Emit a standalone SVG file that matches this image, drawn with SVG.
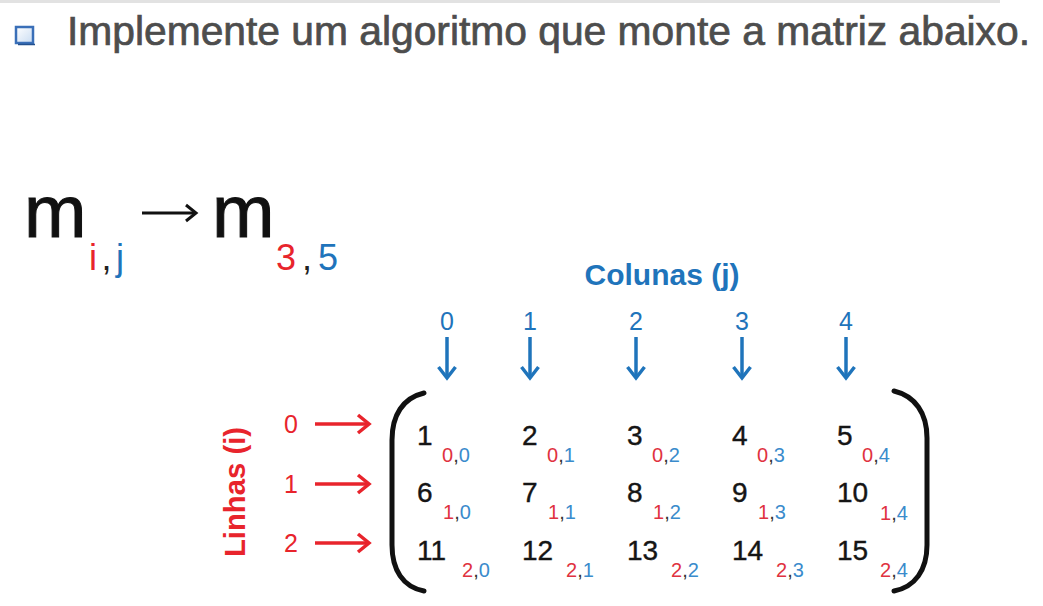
<svg xmlns="http://www.w3.org/2000/svg" width="1043" height="606" viewBox="0 0 1043 606">
<defs>
<style>
.title{font-family:"Liberation Sans",Arial,sans-serif;font-size:40px;fill:#4d4d4d;stroke:#4d4d4d;stroke-width:0.7px}
.big{font-family:"Liberation Sans",Arial,sans-serif;font-size:75px;fill:#111;stroke:#111;stroke-width:1px}
.sub{font-family:"Liberation Sans",Arial,sans-serif;font-size:36px}
.lab{font-family:"Liberation Sans",Arial,sans-serif;font-weight:bold;font-size:29px}
.idx{font-family:"Liberation Sans",Arial,sans-serif;font-size:25px}
.num{font-family:"Liberation Sans",Arial,sans-serif;font-size:28px;fill:#151515;stroke:#151515;stroke-width:0.4px}
.s{font-family:"Liberation Sans",Arial,sans-serif;font-size:20px;fill:#333}
.r{fill:#e8242c}
.b{fill:#1f74bb}
.sr{fill:#e0323f}
.sb{fill:#3a8bcc}
.k{fill:#222}
.red-arrow{stroke:#e8242c;stroke-width:3.5;fill:none}
.blue-arrow{stroke:#1f74bb;stroke-width:3.5;fill:none}
.bracket{stroke:#111;stroke-width:5;fill:none;stroke-linecap:round}
</style>
<marker id="hr" viewBox="0 0 16 24" refX="13" refY="12" markerWidth="16" markerHeight="24" markerUnits="userSpaceOnUse" orient="auto">
<path d="M2,3 L13,12 L2,21" fill="none" stroke="#e8242c" stroke-width="3.5"/>
</marker>
<marker id="hb" viewBox="0 0 16 24" refX="13" refY="12" markerWidth="16" markerHeight="24" markerUnits="userSpaceOnUse" orient="auto">
<path d="M2,3.5 L13,12 L2,20.5" fill="none" stroke="#1f74bb" stroke-width="3.5"/>
</marker>
<marker id="hk" viewBox="0 0 16 24" refX="13" refY="12" markerWidth="16" markerHeight="24" markerUnits="userSpaceOnUse" orient="auto">
<path d="M3,4 L13,12 L3,20" fill="none" stroke="#111" stroke-width="3"/>
</marker>
<linearGradient id="bg" x1="0" y1="0" x2="1" y2="1">
<stop offset="0" stop-color="#ffffff"/>
<stop offset="1" stop-color="#c9dcf2"/>
</linearGradient>
</defs>
<rect x="0" y="0" width="1043" height="606" fill="#ffffff"/>
<rect x="0" y="0" width="1000" height="3" fill="#e2e2e2"/>

<g id="title">
<rect x="16" y="27" width="17" height="16" fill="url(#bg)" stroke="#3a6fb8" stroke-width="2.5"/>
<line x1="18" y1="44.5" x2="35" y2="44.5" stroke="#23508f" stroke-width="1.5"/>
<text class="title" x="67" y="45" textLength="963" lengthAdjust="spacingAndGlyphs">Implemente um algoritmo que monte a matriz abaixo.</text>
</g>

<g id="formula">
<text class="big" x="24" y="237">m</text>
<text class="sub" x="89" y="270" textLength="35" lengthAdjust="spacing"><tspan class="r">i</tspan><tspan class="k">,</tspan><tspan class="b">j</tspan></text>
<text class="big" x="212" y="237">m</text>
<text class="sub" x="276" y="270" textLength="62" lengthAdjust="spacing"><tspan class="r">3</tspan><tspan class="k">,</tspan><tspan class="b">5</tspan></text>
</g>

<g id="colunas">
<text class="lab b" x="662" y="285" text-anchor="middle" textLength="155" lengthAdjust="spacingAndGlyphs">Colunas (j)</text>
<text class="idx b" x="447" y="330" text-anchor="middle">0</text>
<text class="idx b" x="530" y="330" text-anchor="middle">1</text>
<text class="idx b" x="636" y="330" text-anchor="middle">2</text>
<text class="idx b" x="742" y="330" text-anchor="middle">3</text>
<text class="idx b" x="846" y="330" text-anchor="middle">4</text>
</g>

<g id="linhas">
<text class="lab r" transform="translate(245,492) rotate(-90)" text-anchor="middle" textLength="130" lengthAdjust="spacingAndGlyphs">Linhas (i)</text>
<text class="idx r" x="291" y="433" text-anchor="middle">0</text>
<text class="idx r" x="291" y="493" text-anchor="middle">1</text>
<text class="idx r" x="291" y="552" text-anchor="middle">2</text>
</g>

<g id="connectors">
<line class="blue-arrow" x1="447" y1="337" x2="447" y2="378" marker-end="url(#hb)"/>
<line class="blue-arrow" x1="530" y1="337" x2="530" y2="378" marker-end="url(#hb)"/>
<line class="blue-arrow" x1="636" y1="337" x2="636" y2="378" marker-end="url(#hb)"/>
<line class="blue-arrow" x1="742" y1="337" x2="742" y2="378" marker-end="url(#hb)"/>
<line class="blue-arrow" x1="846" y1="337" x2="846" y2="378" marker-end="url(#hb)"/>
<line class="red-arrow" x1="315" y1="424" x2="369" y2="424" marker-end="url(#hr)"/>
<line class="red-arrow" x1="315" y1="484" x2="369" y2="484" marker-end="url(#hr)"/>
<line class="red-arrow" x1="315" y1="543" x2="369" y2="543" marker-end="url(#hr)"/>
<line x1="142" y1="213" x2="196" y2="213" stroke="#111" stroke-width="3" marker-end="url(#hk)"/>
</g>

<g id="matrix">
<path class="bracket" d="M424,393 C403,398 392,415 392,440 L392,545 C392,570 403,587 424,591"/>
<path class="bracket" d="M894,391 C915,396 927,413 927,438 L927,545 C927,570 915,587 894,591"/>
<g id="row0">
<text class="num" x="417" y="445">1</text><text class="s" x="442" y="462"><tspan class="sr">0</tspan>,<tspan class="sb">0</tspan></text>
<text class="num" x="522" y="445">2</text><text class="s" x="547" y="462"><tspan class="sr">0</tspan>,<tspan class="sb">1</tspan></text>
<text class="num" x="627" y="445">3</text><text class="s" x="652" y="462"><tspan class="sr">0</tspan>,<tspan class="sb">2</tspan></text>
<text class="num" x="732" y="445">4</text><text class="s" x="757" y="462"><tspan class="sr">0</tspan>,<tspan class="sb">3</tspan></text>
<text class="num" x="837" y="445">5</text><text class="s" x="862" y="462"><tspan class="sr">0</tspan>,<tspan class="sb">4</tspan></text>
</g>
<g id="row1">
<text class="num" x="417" y="502">6</text><text class="s" x="443" y="519"><tspan class="sr">1</tspan>,<tspan class="sb">0</tspan></text>
<text class="num" x="522" y="502">7</text><text class="s" x="548" y="519"><tspan class="sr">1</tspan>,<tspan class="sb">1</tspan></text>
<text class="num" x="627" y="502">8</text><text class="s" x="653" y="519"><tspan class="sr">1</tspan>,<tspan class="sb">2</tspan></text>
<text class="num" x="732" y="502">9</text><text class="s" x="758" y="519"><tspan class="sr">1</tspan>,<tspan class="sb">3</tspan></text>
<text class="num" x="837" y="502">10</text><text class="s" x="880" y="520"><tspan class="sr">1</tspan>,<tspan class="sb">4</tspan></text>
</g>
<g id="row2">
<text class="num" x="417" y="560">11</text><text class="s" x="462" y="577"><tspan class="sr">2</tspan>,<tspan class="sb">0</tspan></text>
<text class="num" x="522" y="560">12</text><text class="s" x="566" y="577"><tspan class="sr">2</tspan>,<tspan class="sb">1</tspan></text>
<text class="num" x="627" y="560">13</text><text class="s" x="671" y="577"><tspan class="sr">2</tspan>,<tspan class="sb">2</tspan></text>
<text class="num" x="732" y="560">14</text><text class="s" x="776" y="577"><tspan class="sr">2</tspan>,<tspan class="sb">3</tspan></text>
<text class="num" x="837" y="560">15</text><text class="s" x="880" y="577"><tspan class="sr">2</tspan>,<tspan class="sb">4</tspan></text>
</g>
</g>
</svg>
